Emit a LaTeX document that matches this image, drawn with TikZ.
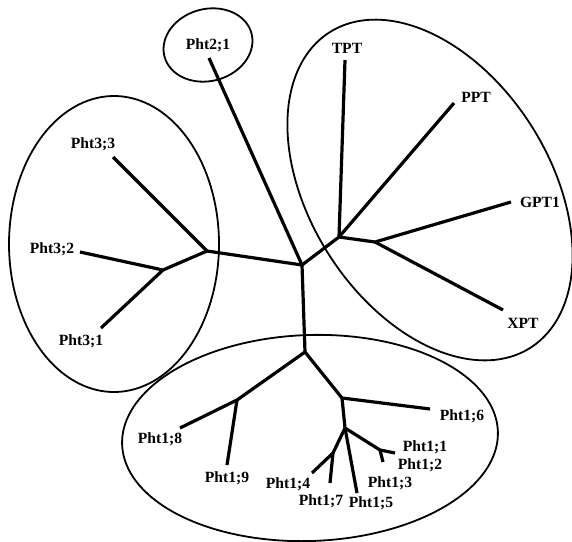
\documentclass[tikz,border=0pt]{standalone}
\usepackage{fontspec}
\setmainfont{Liberation Serif}
\usepackage{tikz}
\usetikzlibrary{positioning}

\tikzset{
    branch/.style={line width=1.6pt, line join=round},
    clade/.style={line width=0.9pt},
    leaf/.style={font=\fontsize{7.8}{9}\selectfont\bfseries, inner sep=0pt}
}

\begin{document}
\begin{tikzpicture}[x=0.5pt,y=-0.5pt]
    \useasboundingbox (0,0) rectangle (572,541);

    % Draw group outlines
    \foreach \cx/\cy/\a/\b/\t in {208/45/45/36/-15, 114/244/105/148/0, 430/190/187/120/57.5, 310/438/188/103/-2} {
        \draw[clade, smooth, samples=120, domain=0:360, variable=\s]
            plot ({\cx+\a*cos(\s)*cos(\t)-\b*sin(\s)*sin(\t)}, {\cy+\a*cos(\s)*sin(\t)+\b*sin(\s)*cos(\t)}) -- cycle;
    }

    % Inner nodes of the tree
    \coordinate (c0) at (302,265);
    \coordinate (l1) at (207,251);
    \coordinate (l2) at (163,270);
    \coordinate (r1) at (339,237);
    \coordinate (r2) at (375,242);
    \coordinate (d1) at (305,352);
    \coordinate (d2) at (237,400);
    \coordinate (d3) at (342,398);
    \coordinate (d4) at (345,428);
    \coordinate (d5) at (380,450);
    \coordinate (d6) at (333,453);

    % Tips of the branches
    \coordinate (t21) at (209,58);
    \coordinate (t33) at (113,157);
    \coordinate (t32) at (80,252);
    \coordinate (t31) at (101,328);
    \coordinate (tTPT) at (345,60);
    \coordinate (tPPT) at (454,103);
    \coordinate (tGPT) at (511,202);
    \coordinate (tXPT) at (503,310);
    \coordinate (t18) at (180,428);
    \coordinate (t19) at (227,465);
    \coordinate (t16) at (430,409);
    \coordinate (t11) at (395,453);
    \coordinate (t12) at (383,462);
    \coordinate (t15) at (357,493);
    \coordinate (t14) at (312,473);
    \coordinate (t17) at (330,483);

    % Draw branches
    \draw[branch] (t21) -- (c0) -- (d1);
    \draw[branch] (c0) -- (l1) -- (t33);
    \draw[branch] (l1) -- (l2) -- (t32);
    \draw[branch] (l2) -- (t31);
    \draw[branch] (c0) -- (r1) -- (tTPT);
    \draw[branch] (r1) -- (tPPT);
    \draw[branch] (r1) -- (r2) -- (tGPT);
    \draw[branch] (r2) -- (tXPT);
    \draw[branch] (d1) -- (d2) -- (t18);
    \draw[branch] (d2) -- (t19);
    \draw[branch] (d1) -- (d3) -- (t16);
    \draw[branch] (d3) -- (d4) -- (d5) -- (t11);
    \draw[branch] (d5) -- (t12);
    \draw[branch] (d4) -- (t15);
    \draw[branch] (d4) -- (d6) -- (t14);
    \draw[branch] (d6) -- (t17);

    % Labels
    \node[leaf] (n21) at (208,45) {Pht2;1};
    \node[leaf] (n33) at (93,144) {Pht3;3};
    \node[leaf] (n32) at (52,249) {Pht3;2};
    \node[leaf] (n31) at (81,341) {Pht3;1};
    \node[leaf] (nTPT) at (347,48) {TPT};
    \node[leaf] (nPPT) at (476,97) {PPT};
    \node[leaf] (nGPT) at (540,202) {GPT1};
    \node[leaf] (nXPT) at (523,323) {XPT};
    \node[leaf] (n16) at (462,416) {Pht1;6};
    \node[leaf] (n18) at (160,439) {Pht1;8};
    \node[leaf] (n19) at (227,478) {Pht1;9};
    \node[leaf] (n11) at (425,447) {Pht1;1};
    \node[leaf] (n12) at (420,465) {Pht1;2};
    \node[leaf] (n13) at (390,483) {Pht1;3};
    \node[leaf] (n14) at (288,484) {Pht1;4};
    \node[leaf] (n17) at (321,501) {Pht1;7};
    \node[leaf] (n15) at (371,503) {Pht1;5};
\end{tikzpicture}
\end{document}
